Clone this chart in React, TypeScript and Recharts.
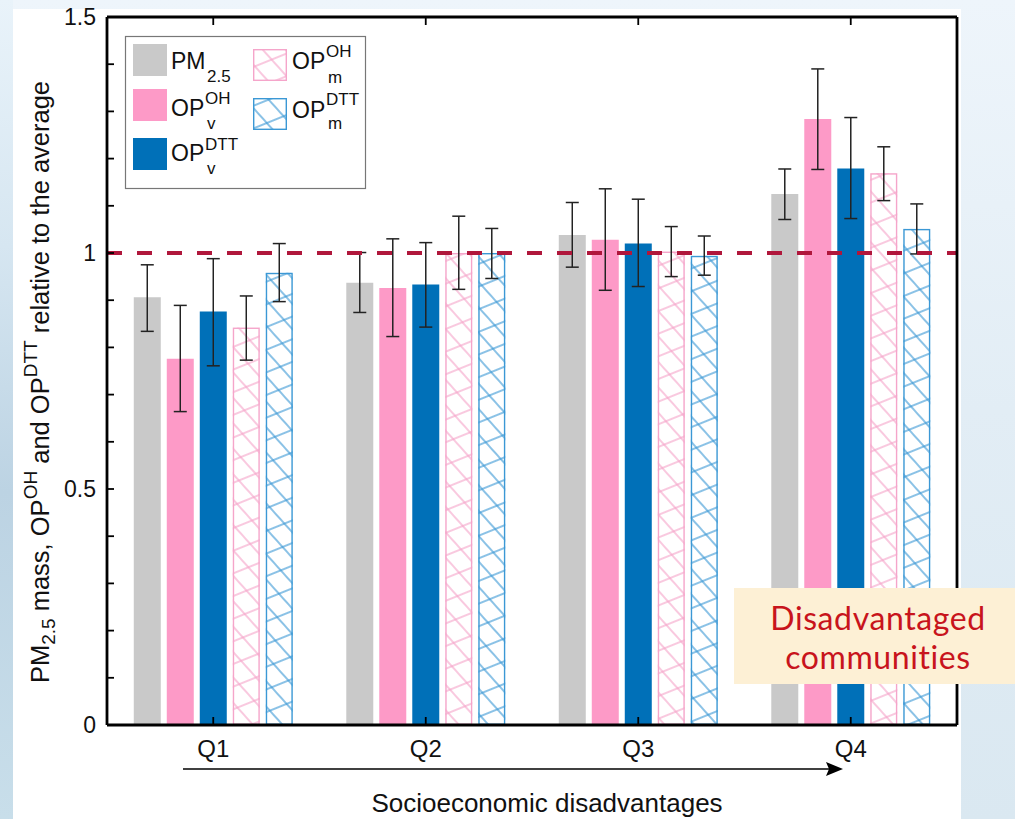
import React from 'react';
import { BarChart, Bar, XAxis, YAxis, ErrorBar, ReferenceLine, Label } from 'recharts';

const categories = ['Q1', 'Q2', 'Q3', 'Q4'];

const pm25 = [0.906, 0.937, 1.038, 1.125];
const pm25Lo = [0.834, 0.874, 0.970, 1.071];
const pm25Hi = [0.975, 1.001, 1.107, 1.178];

const ohV = [0.776, 0.926, 1.028, 1.284];
const ohVLo = [0.664, 0.823, 0.921, 1.177];
const ohVHi = [0.889, 1.030, 1.136, 1.390];

const dttV = [0.876, 0.933, 1.020, 1.179];
const dttVLo = [0.761, 0.843, 0.929, 1.073];
const dttVHi = [0.988, 1.022, 1.114, 1.287];

const ohM = [0.842, 1.0, 1.003, 1.169];
const ohMLo = [0.773, 0.923, 0.950, 1.111];
const ohMHi = [0.909, 1.078, 1.056, 1.225];

const dttM = [0.958, 1.0, 0.994, 1.051];
const dttMLo = [0.897, 0.946, 0.953, 0.998];
const dttMHi = [1.020, 1.052, 1.036, 1.104];

const yTicks = [0, 0.1, 0.2, 0.3, 0.4, 0.5, 0.6, 0.7, 0.8, 0.9, 1.0, 1.1, 1.2, 1.3, 1.4, 1.5];
const yLabelTicks = [0, 0.5, 1, 1.5];
const yTickLabels = ['0', '0.5', '1', '1.5'];

const err = (v: number[], lo: number[], hi: number[], i: number) => [v[i] - lo[i], hi[i] - v[i]];

const data = categories.map((cat, i) => ({
  cat,
  pm: pm25[i],
  pmErr: err(pm25, pm25Lo, pm25Hi, i),
  ohv: ohV[i],
  ohvErr: err(ohV, ohVLo, ohVHi, i),
  dttv: dttV[i],
  dttvErr: err(dttV, dttVLo, dttVHi, i),
  ohm: ohM[i],
  ohmErr: err(ohM, ohMLo, ohMHi, i),
  dttm: dttM[i],
  dttmErr: err(dttM, dttMLo, dttMHi, i),
}));

const FONT = '"Liberation Sans", Arial, Helvetica, sans-serif';
const GRAY = '#c9c9c9';
const PINK = '#fd9ac7';
const BLUE = '#0070b8';
const PINK_H = '#f5a5ca';
const BLUE_H = '#3b98d5';
const ERR = '#222';

const LeftTick = (props: any) => {
  const { x, y, payload } = props;
  const idx = yLabelTicks.findIndex((t) => Math.abs(t - payload.value) < 1e-6);
  return (
    <g>
      <line x1={x} x2={x + 7} y1={y} y2={y} stroke="#000" strokeWidth={1.8} />
      {idx >= 0 && (
        <text x={x - 11} y={y} dy="0.36em" textAnchor="end" fontSize={23} fontFamily={FONT} fill="#111">
          {yTickLabels[idx]}
        </text>
      )}
    </g>
  );
};

const RightTick = (props: any) => {
  const { x, y } = props;
  return <line x1={x} x2={x - 7} y1={y} y2={y} stroke="#000" strokeWidth={1.8} />;
};

const BottomTick = (props: any) => {
  const { x, y, payload } = props;
  return (
    <g>
      <line x1={x} x2={x} y1={y} y2={y - 8} stroke="#000" strokeWidth={1.8} />
      <text x={x} y={y + 32} textAnchor="middle" fontSize={24} fontFamily={FONT} fill="#111">
        {payload.value}
      </text>
    </g>
  );
};

const TopTick = (props: any) => {
  const { x, y } = props;
  return <line x1={x} x2={x} y1={y} y2={y + 8} stroke="#000" strokeWidth={1.8} />;
};

const XTitle = (props: any) => {
  const vb = props.viewBox || { x: 107, y: 725, width: 850, height: 1 };
  const x0 = vb.x;
  const y0 = vb.y;
  const ay = y0 + 44;
  return (
    <g>
      <line x1={x0 + 76} x2={x0 + 722} y1={ay} y2={ay} stroke="#000" strokeWidth={1.6} />
      <path d={`M${x0 + 736},${ay} L${x0 + 719},${ay - 7} L${x0 + 722},${ay} L${x0 + 719},${ay + 7} Z`} fill="#000" />
      <text x={x0 + 440} y={y0 + 87} textAnchor="middle" fontSize={26} fontFamily={FONT} fill="#111">
        Socioeconomic disadvantages
      </text>
    </g>
  );
};

const YTitle = (props: any) => {
  const vb = props.viewBox || { x: 106, y: 17, width: 1, height: 708 };
  const cx = vb.x + (vb.width || 0) - 58;
  const cy = vb.y + vb.height / 2 + 11;
  return (
    <text
      transform={`rotate(-90 ${cx} ${cy})`}
      x={cx}
      y={cy}
      textAnchor="middle"
      fontSize={25.5}
      fontFamily={FONT}
      fill="#111"
    >
      <tspan>PM</tspan>
      <tspan fontSize={19} dy={6}>2.5</tspan>
      <tspan dy={-6}> mass, OP</tspan>
      <tspan fontSize={19} dy={-12}>OH</tspan>
      <tspan dy={12}> and OP</tspan>
      <tspan fontSize={19} dy={-12}>DTT</tspan>
      <tspan dy={12}> relative to the average</tspan>
    </text>
  );
};

const makeHatch = (color: string, a: string, b: string) => (props: any) => {
  const { x, y, width, height } = props;
  if (!height || height <= 0) return null;
  return (
    <g>
      <rect x={x} y={y} width={width} height={height} fill="#fff" />
      <rect x={x} y={y} width={width} height={height} fill={`url(#${a})`} />
      <rect x={x} y={y} width={width} height={height} fill={`url(#${b})`} />
      <rect x={x + 0.7} y={y + 0.7} width={width - 1.4} height={height - 1.4} fill="none" stroke={color} strokeWidth={1.4} />
    </g>
  );
};

const PinkHatch = makeHatch(PINK_H, 'pinkA', 'pinkB');
const BlueHatch = makeHatch(BLUE_H, 'blueA', 'blueB');

const Defs = () => (
  <defs>
    <pattern id="pinkA" patternUnits="userSpaceOnUse" width="20" height="21" patternTransform="rotate(-22)">
      <line x1="0" y1="10" x2="20" y2="10" stroke={PINK_H} strokeWidth="1.2" />
    </pattern>
    <pattern id="pinkB" patternUnits="userSpaceOnUse" width="20" height="17" patternTransform="rotate(48)">
      <line x1="0" y1="8" x2="20" y2="8" stroke={PINK_H} strokeWidth="1.2" />
    </pattern>
    <pattern id="blueA" patternUnits="userSpaceOnUse" width="20" height="21" patternTransform="rotate(-22)">
      <line x1="0" y1="4" x2="20" y2="4" stroke={BLUE_H} strokeWidth="1.2" />
    </pattern>
    <pattern id="blueB" patternUnits="userSpaceOnUse" width="20" height="17" patternTransform="rotate(48)">
      <line x1="0" y1="3" x2="20" y2="3" stroke={BLUE_H} strokeWidth="1.2" />
    </pattern>
  </defs>
);

const LT = (p: any) => <text fontFamily={FONT} fill="#111" {...p} />;

const LegendSvg = () => (
  <svg width={1015} height={819} style={{ position: 'absolute', left: 0, top: 0, pointerEvents: 'none' }}>
    <Defs />
    <rect x={125.5} y={36.5} width={240} height={152} fill="#fff" stroke="#777" strokeWidth={1.2} />
    <rect x={133} y={44} width={34} height={32} fill={GRAY} />
    <LT x={171} y={69} fontSize={23}>PM</LT>
    <LT x={207} y={82} fontSize={17}>2.5</LT>

    <rect x={133} y={89} width={34} height={32} fill={PINK} />
    <LT x={171} y={116} fontSize={23}>OP</LT>
    <LT x={205} y={104} fontSize={17}>OH</LT>
    <LT x={207} y={129} fontSize={17}>v</LT>

    <rect x={133} y={138} width={34} height={32} fill={BLUE} />
    <LT x={171} y={161} fontSize={23}>OP</LT>
    <LT x={205} y={150} fontSize={17}>DTT</LT>
    <LT x={207} y={174} fontSize={17}>v</LT>

    <g>{PinkHatch({ x: 253, y: 49, width: 34, height: 32 })}</g>
    <LT x={292} y={69} fontSize={23}>OP</LT>
    <LT x={326} y={57} fontSize={17}>OH</LT>
    <LT x={328} y={83} fontSize={17}>m</LT>

    <g>{BlueHatch({ x: 253, y: 98, width: 34, height: 32 })}</g>
    <LT x={292} y={118} fontSize={23}>OP</LT>
    <LT x={326} y={105} fontSize={17}>DTT</LT>
    <LT x={328} y={129} fontSize={17}>m</LT>
  </svg>
);

export default function App() {
  return (
    <div
      style={{
        position: 'absolute',
        left: 0,
        top: 0,
        width: 1015,
        height: 819,
        overflow: 'hidden',
        background: 'linear-gradient(180deg, #eef5fb 0%, #e2edf5 50%, #dae8f1 100%)',
      }}
    >
      <div
        style={{
          position: 'absolute',
          left: 0,
          top: 0,
          width: 13,
          height: 819,
          background: 'linear-gradient(180deg, #e9f3fa 0%, #d6e6f1 30%, #bcd3e3 60%, #c8deea 100%)',
        }}
      />
      <div style={{ position: 'absolute', left: 13, top: 9, width: 948, height: 810, background: '#fff' }} />
      <div style={{ position: 'absolute', left: 0, top: 0 }}>
        <BarChart
          width={1015}
          height={819}
          data={data}
          margin={{ top: 16, right: 57, bottom: 93, left: 106 }}
          barGap={6}
          barCategoryGap="12.6%"
        >
          <XAxis
            dataKey="cat"
            xAxisId={0}
            height={1}
            tickSize={0}
            tickMargin={0}
            tickLine={false}
            interval={0}
            axisLine={{ stroke: '#000', strokeWidth: 2.8 }}
            tick={<BottomTick />}
          >
            <Label content={<XTitle />} />
          </XAxis>
          <XAxis
            dataKey="cat"
            xAxisId="top"
            orientation="top"
            height={1}
            tickSize={0}
            tickMargin={0}
            tickLine={false}
            interval={0}
            axisLine={{ stroke: '#000', strokeWidth: 2.8 }}
            tick={<TopTick />}
          />
          <YAxis
            yAxisId={0}
            type="number"
            domain={[0, 1.5]}
            ticks={yTicks}
            interval={0}
            width={1}
            tickSize={0}
            tickMargin={0}
            tickLine={false}
            axisLine={{ stroke: '#000', strokeWidth: 2.8 }}
            tick={<LeftTick />}
          >
            <Label content={<YTitle />} />
          </YAxis>
          <YAxis
            yAxisId="right"
            orientation="right"
            type="number"
            domain={[0, 1.5]}
            ticks={yTicks}
            interval={0}
            width={1}
            tickSize={0}
            tickMargin={0}
            tickLine={false}
            axisLine={{ stroke: '#000', strokeWidth: 2.8 }}
            tick={<RightTick />}
          />
          <Bar dataKey="pm" fill={GRAY} isAnimationActive={false}>
            <ErrorBar dataKey="pmErr" width={6.5} stroke={ERR} strokeWidth={1.5} direction="y" />
          </Bar>
          <Bar dataKey="ohv" fill={PINK} isAnimationActive={false}>
            <ErrorBar dataKey="ohvErr" width={6.5} stroke={ERR} strokeWidth={1.5} direction="y" />
          </Bar>
          <Bar dataKey="dttv" fill={BLUE} isAnimationActive={false}>
            <ErrorBar dataKey="dttvErr" width={6.5} stroke={ERR} strokeWidth={1.5} direction="y" />
          </Bar>
          <Bar dataKey="ohm" shape={PinkHatch} isAnimationActive={false}>
            <ErrorBar dataKey="ohmErr" width={6.5} stroke={ERR} strokeWidth={1.5} direction="y" />
          </Bar>
          <Bar dataKey="dttm" shape={BlueHatch} isAnimationActive={false}>
            <ErrorBar dataKey="dttmErr" width={6.5} stroke={ERR} strokeWidth={1.5} direction="y" />
          </Bar>
          <ReferenceLine y={1} yAxisId={0} stroke="#b0173c" strokeWidth={4} strokeDasharray="15 15" />
        </BarChart>
      </div>
      <LegendSvg />
      <div
        style={{
          position: 'absolute',
          left: 734,
          top: 588,
          width: 288,
          height: 96,
          background: '#fdf0d5',
          color: '#c8141c',
          fontFamily: 'Lato, "Open Sans", sans-serif',
          fontSize: 32,
          lineHeight: '39px',
          textAlign: 'center',
          paddingTop: 10,
          boxSizing: 'border-box',
          letterSpacing: 0.6,
        }}
      >
        <div>Disadvantaged</div>
        <div>communities</div>
      </div>
    </div>
  );
}
